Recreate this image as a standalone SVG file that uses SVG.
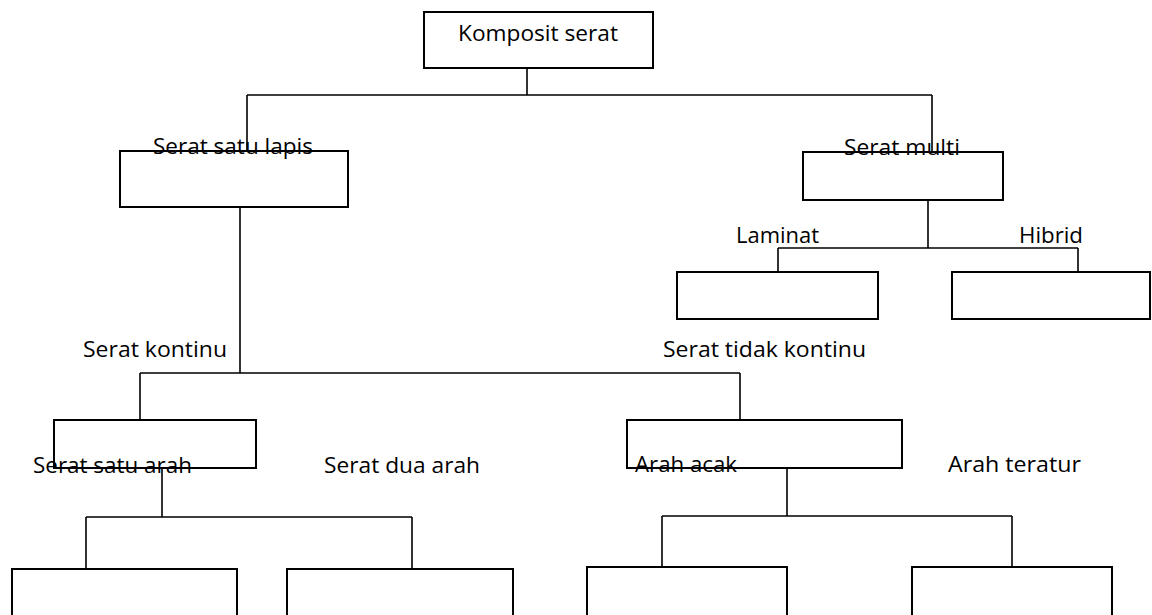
<svg xmlns="http://www.w3.org/2000/svg" width="1152" height="615" viewBox="0 0 1152 615">
  <style>
    .box { fill: none; stroke: #000; stroke-width: 2; }
    .con { fill: none; stroke: #000; stroke-width: 1.6; }
    .lbl { font-family: "Open Sans", "Liberation Sans", sans-serif; font-size: 22.5px; fill: #000; }
  </style>
  <rect x="0" y="0" width="1152" height="615" fill="#fff"/>
  <g id="connectors">
    <path class="con" d="M527,68 V95 M247,95 H932 M247,95 V151 M932,95 V152"/>
    <path class="con" d="M240,207 V373 M140,373 H740 M140,373 V420 M740,373 V420"/>
    <path class="con" d="M928,200 V248 M778,248 H1078 M778,248 V272 M1078,248 V272"/>
    <path class="con" d="M162,468 V517 M86,517 H412 M86,517 V569 M412,517 V569"/>
    <path class="con" d="M787,468 V516 M662,516 H1012 M662,516 V567 M1012,516 V567"/>
  </g>
  <g id="komposit-serat">
    <rect class="box" x="424" y="12" width="229" height="56"/>
    <text class="lbl" x="458" y="41" textLength="160" lengthAdjust="spacingAndGlyphs">Komposit serat</text>
  </g>
  <g id="serat-satu-lapis">
    <rect class="box" x="120" y="151" width="228" height="56"/>
    <text class="lbl" x="153" y="154" textLength="160" lengthAdjust="spacingAndGlyphs">Serat satu lapis</text>
  </g>
  <g id="serat-multi">
    <rect class="box" x="803" y="152" width="200" height="48"/>
    <text class="lbl" x="844" y="155" textLength="116" lengthAdjust="spacingAndGlyphs">Serat multi</text>
  </g>
  <g id="laminat">
    <rect class="box" x="677" y="272" width="201" height="47"/>
    <text class="lbl" x="736" y="243" textLength="83" lengthAdjust="spacingAndGlyphs">Laminat</text>
  </g>
  <g id="hibrid">
    <rect class="box" x="952" y="272" width="198" height="47"/>
    <text class="lbl" x="1019" y="243" textLength="64" lengthAdjust="spacingAndGlyphs">Hibrid</text>
  </g>
  <g id="serat-kontinu">
    <rect class="box" x="54" y="420" width="202" height="48"/>
    <text class="lbl" x="83" y="357" textLength="144" lengthAdjust="spacingAndGlyphs">Serat kontinu</text>
  </g>
  <g id="serat-tidak-kontinu">
    <rect class="box" x="627" y="420" width="275" height="48"/>
    <text class="lbl" x="663" y="357" textLength="203" lengthAdjust="spacingAndGlyphs">Serat tidak kontinu</text>
  </g>
  <g id="serat-satu-arah">
    <rect class="box" x="12" y="569" width="225" height="52"/>
    <text class="lbl" x="33" y="473" textLength="159" lengthAdjust="spacingAndGlyphs">Serat satu arah</text>
  </g>
  <g id="serat-dua-arah">
    <rect class="box" x="287" y="569" width="226" height="52"/>
    <text class="lbl" x="324" y="473" textLength="156" lengthAdjust="spacingAndGlyphs">Serat dua arah</text>
  </g>
  <g id="arah-acak">
    <rect class="box" x="587" y="567" width="200" height="54"/>
    <text class="lbl" x="635" y="472" textLength="102" lengthAdjust="spacingAndGlyphs">Arah acak</text>
  </g>
  <g id="arah-teratur">
    <rect class="box" x="912" y="567" width="200" height="54"/>
    <text class="lbl" x="948" y="472" textLength="133" lengthAdjust="spacingAndGlyphs">Arah teratur</text>
  </g>
</svg>
